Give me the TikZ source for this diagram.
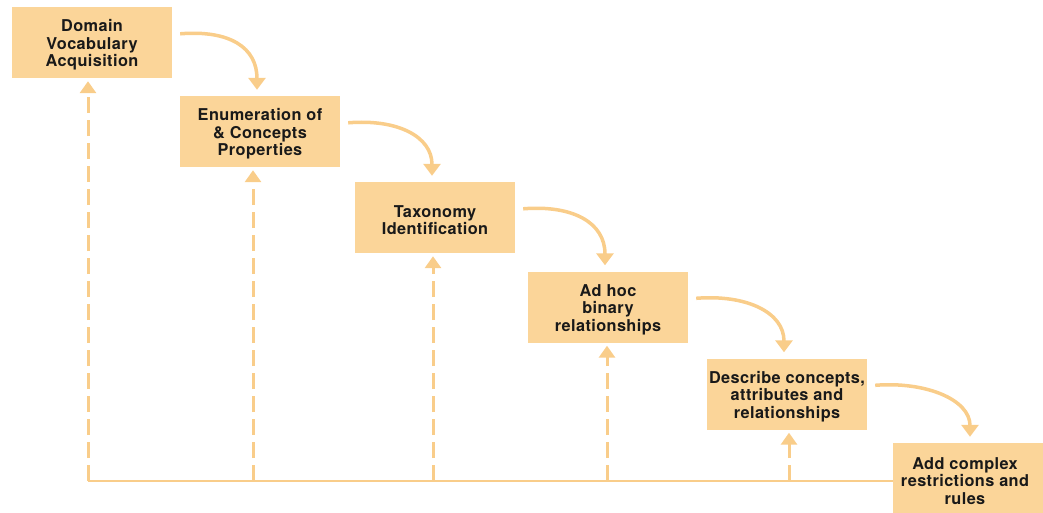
\documentclass[tikz,border=0pt]{standalone}
\usepackage{fontspec}
\setmainfont{TeX Gyre Heros}[LetterSpace=2.5]
\usetikzlibrary{arrows.meta,calc}
\definecolor{boxc}{RGB}{251,213,153}
\definecolor{linec}{RGB}{249,205,138}
\definecolor{txtc}{RGB}{25,25,25}
\tikzset{
  stepbox/.style={fill=boxc, draw=none, minimum width=160pt, minimum height=71pt,
    inner sep=0pt},
  steptext/.style={align=center, inner sep=0pt, text=txtc, yshift=-2.5pt,
    font=\fontsize{16.3pt}{17.6pt}\selectfont\bfseries},
  flowarrow/.style={draw=linec, line width=3.5pt, -{Triangle[width=17pt,length=12pt]}},
  backarrow/.style={draw=linec, line width=3pt, dash pattern=on 16pt off 7pt,
    -{Triangle[width=16pt,length=12pt]}},
  baseline/.style={draw=linec, line width=2pt}
}
\begin{document}
\begin{tikzpicture}[x=1pt,y=-1pt]
\useasboundingbox (0,0) rectangle (1043,512);
\clip (0,0) rectangle (1043,512);
\node[stepbox, label={[steptext]center:Domain\\Vocabulary\\Acquisition}] (B1) at (92,42.5) {};
\node[stepbox, label={[steptext]center:Enumeration of\\\& Concepts\\Properties}] (B2) at (260,131.5) {};
\node[stepbox, label={[steptext]center:Taxonomy\\Identification}] (B3) at (435,217.5) {};
\node[stepbox, label={[steptext]center:Ad hoc\\binary\\relationships}] (B4) at (608,307) {};
\node[stepbox, label={[steptext]center:Describe concepts,\\attributes and\\relationships}] (B5) at (787,394) {};
\node[stepbox, label={[steptext, xshift=-8pt]center:Add complex\\restrictions and\\rules}] (B6) at (973,478.5) {};
% curved forward arrows
\foreach \a/\b in {B1/B2,B2/B3,B3/B4,B4/B5,B5/B6}{
  \path (\a.north east) ++(8,27) coordinate (s-\a);
  \path (\b.north) ++(-3,-6) coordinate (t-\a);
  \draw[flowarrow] (s-\a) .. controls ($(s-\a)+(50,-4)$) and ($(t-\a |- s-\a)+(0,14)$) .. (t-\a);
}
% bottom line
\coordinate (d1) at (88,481);
\coordinate (d2) at (253,481);
\coordinate (d3) at (433,481);
\coordinate (d4) at (607,481);
\coordinate (d5) at (789,481);
\draw[baseline] (d1) -- (B6.west |- d1);
\foreach \i in {1,...,5}{
  \draw[backarrow] (d\i) -- ($(d\i |- B\i.south)+(0,3)$);
}
\end{tikzpicture}
\end{document}
